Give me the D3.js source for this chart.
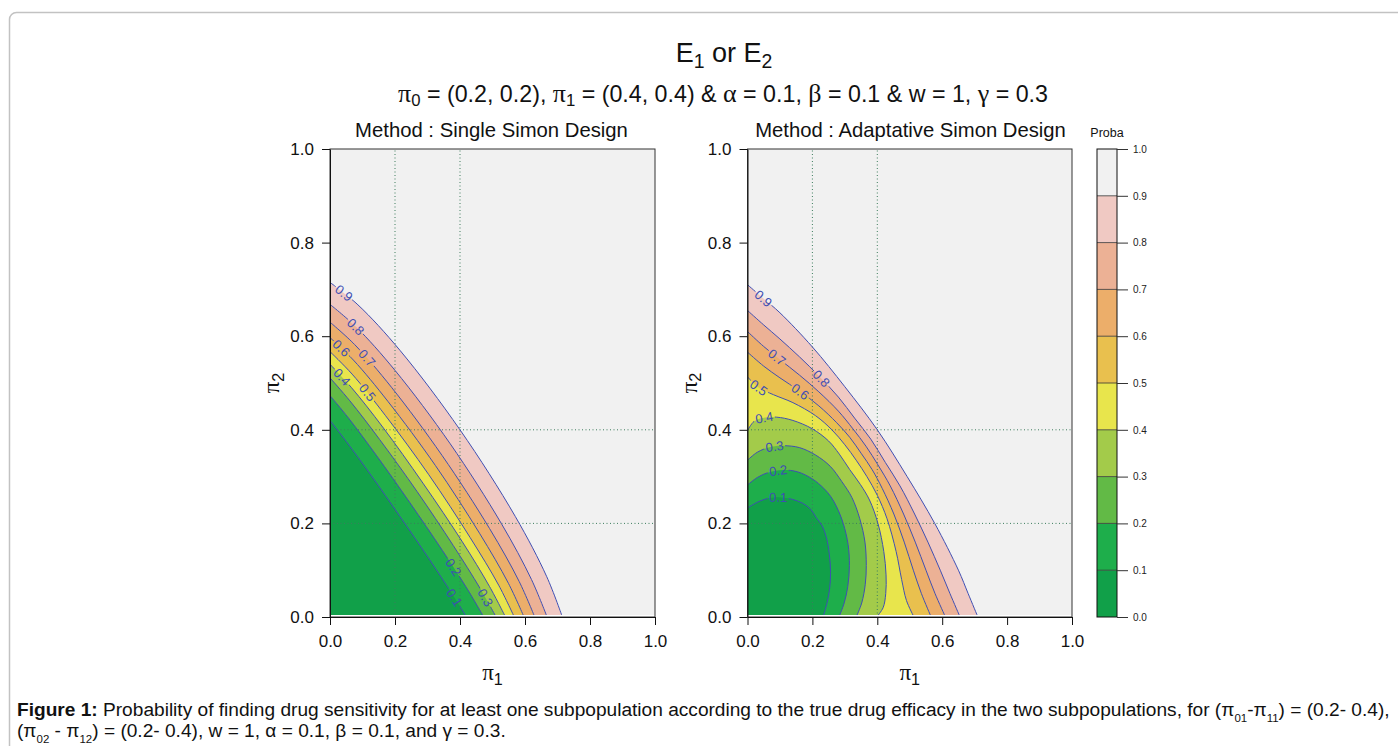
<!DOCTYPE html>
<html>
<head>
<meta charset="utf-8">
<script src="https://cdn.jsdelivr.net/npm/d3@7"></script>
<style>
  body { margin: 0; background: #fff; }
  svg { display: block; }
</style>
</head>
<body>
<script>
// contour levels and the fill colour of each band (0-0.1 ... 0.9-1.0)
const levels = [0.1, 0.2, 0.3, 0.4, 0.5, 0.6, 0.7, 0.8, 0.9];
const bandColors = ["#11a049", "#1eae4b", "#62ba46", "#a3cb4a", "#e8e54c",
                    "#e9c04e", "#ecae6a", "#ecb195", "#f0c9c3", "#f1f1f1"];
const axisTicks = [0, 0.2, 0.4, 0.6, 0.8, 1.0];
const keyTicks = [0, 0.1, 0.2, 0.3, 0.4, 0.5, 0.6, 0.7, 0.8, 0.9, 1.0];
const refLines = [0.2, 0.4];
const panelTitles = ["Method : Single Simon Design", "Method : Adaptative Simon Design"];

// contour lines [pi1, pi2], one array per level
const singleContours = [
  [[0, 0.42], [0.050, 0.375], [0.126, 0.303], [0.215, 0.215], [0.303, 0.126], [0.375, 0.050], [0.42, 0]],
  [[0, 0.473], [0.057, 0.425], [0.142, 0.346], [0.245, 0.245], [0.346, 0.142], [0.425, 0.057], [0.473, 0]],
  [[0, 0.511], [0.061, 0.462], [0.153, 0.379], [0.268, 0.268], [0.379, 0.153], [0.462, 0.061], [0.511, 0]],
  [[0, 0.54], [0.065, 0.491], [0.162, 0.406], [0.286, 0.286], [0.406, 0.162], [0.491, 0.065], [0.54, 0]],
  [[0, 0.567], [0.068, 0.519], [0.170, 0.431], [0.304, 0.304], [0.431, 0.170], [0.519, 0.068], [0.567, 0]],
  [[0, 0.597], [0.072, 0.549], [0.179, 0.460], [0.324, 0.324], [0.460, 0.179], [0.549, 0.072], [0.597, 0]],
  [[0, 0.63], [0.076, 0.582], [0.189, 0.491], [0.345, 0.345], [0.491, 0.189], [0.582, 0.076], [0.63, 0]],
  [[0, 0.668], [0.080, 0.620], [0.200, 0.527], [0.370, 0.370], [0.527, 0.200], [0.620, 0.080], [0.668, 0]],
  [[0, 0.715], [0.086, 0.667], [0.215, 0.570], [0.400, 0.400], [0.570, 0.215], [0.667, 0.086], [0.715, 0]]
];
const singleLabelPos = [[0.378, 0.04], [0.367, 0.10], [0.474, 0.04], [0.03, 0.508], [0.107, 0.475],
                        [0.03, 0.571], [0.107, 0.55], [0.071, 0.615], [0.04, 0.689]];

const adaptiveContours = [
  [[0, 0.233], [0.03, 0.245], [0.06, 0.253], [0.095, 0.256], [0.135, 0.252], [0.17, 0.243], [0.195, 0.23], [0.212, 0.212],
   [0.23, 0.195], [0.243, 0.17], [0.252, 0.135], [0.256, 0.095], [0.253, 0.06], [0.245, 0.03], [0.233, 0]],
  [[0, 0.282], [0.03, 0.298], [0.065, 0.309], [0.11, 0.314], [0.155, 0.31], [0.2, 0.295], [0.235, 0.275], [0.257, 0.257],
   [0.275, 0.235], [0.295, 0.2], [0.31, 0.155], [0.314, 0.11], [0.309, 0.065], [0.298, 0.03], [0.282, 0]],
  [[0, 0.335], [0.03, 0.352], [0.07, 0.363], [0.11, 0.366], [0.16, 0.362], [0.21, 0.346], [0.255, 0.322], [0.29, 0.29],
   [0.322, 0.255], [0.346, 0.21], [0.362, 0.16], [0.366, 0.11], [0.363, 0.07], [0.352, 0.03], [0.335, 0]],
  [[0, 0.398], [0.02, 0.418], [0.05, 0.426], [0.09, 0.427], [0.14, 0.42], [0.2, 0.402], [0.25, 0.376], [0.283, 0.348], [0.315, 0.315],
   [0.348, 0.283], [0.376, 0.25], [0.402, 0.2], [0.42, 0.14], [0.427, 0.09], [0.426, 0.05], [0.418, 0.02], [0.398, 0]],
  [[0, 0.513], [0.035, 0.49], [0.08, 0.475], [0.14, 0.458], [0.21, 0.43], [0.26, 0.4], [0.30, 0.368], [0.335, 0.335],
   [0.368, 0.30], [0.4, 0.26], [0.43, 0.21], [0.458, 0.14], [0.475, 0.08], [0.49, 0.035], [0.513, 0]],
  [[0, 0.566], [0.05, 0.536], [0.1, 0.511], [0.16, 0.483], [0.22, 0.451], [0.275, 0.415], [0.315, 0.384], [0.35, 0.35],
   [0.384, 0.315], [0.415, 0.275], [0.451, 0.22], [0.483, 0.16], [0.511, 0.1], [0.536, 0.05], [0.566, 0]],
  [[0, 0.61], [0.05, 0.578], [0.1, 0.55], [0.16, 0.517], [0.22, 0.481], [0.28, 0.44], [0.325, 0.402], [0.365, 0.365],
   [0.402, 0.325], [0.44, 0.28], [0.481, 0.22], [0.517, 0.16], [0.55, 0.1], [0.578, 0.05], [0.61, 0]],
  [[0, 0.655], [0.05, 0.624], [0.1, 0.594], [0.16, 0.556], [0.22, 0.515], [0.28, 0.47], [0.33, 0.425], [0.38, 0.38],
   [0.425, 0.33], [0.47, 0.28], [0.515, 0.22], [0.556, 0.16], [0.594, 0.1], [0.624, 0.05], [0.655, 0]],
  [[0, 0.71], [0.05, 0.68], [0.1, 0.65], [0.2, 0.577], [0.3, 0.492], [0.4, 0.4],
   [0.492, 0.3], [0.577, 0.2], [0.65, 0.1], [0.68, 0.05], [0.71, 0]]
];
const adaptiveLabelPos = [[0.095, 0.256], [0.095, 0.309], [0.085, 0.357], [0.054, 0.415], [0.033, 0.489],
                          [0.141, 0.461], [0.085, 0.55], [0.211, 0.498], [0.044, 0.677]];

const subtitleSegs = [{t: "π", serif: 1, big: 1}, {t: "0", sub: 1}, {t: " = (0.2, 0.2), "}, {t: "π", serif: 1, big: 1}, {t: "1", sub: 1},
  {t: " = (0.4, 0.4) & "}, {t: "α", serif: 1, big: 1}, {t: " = 0.1, "}, {t: "β", serif: 1, big: 1}, {t: " = 0.1 & w = 1, "},
  {t: "γ", serif: 1, big: 1}, {t: " = 0.3"}];
const captionLine1 = [{t: "Figure 1:", bold: 1},
  {t: " Probability of finding drug sensitivity for at least one subpopulation according to the true drug efficacy in the two subpopulations, for (π"},
  {t: "01", sub: 1}, {t: "-π"}, {t: "11", sub: 1}, {t: ") = (0.2- 0.4),"}];
const captionLine2 = [{t: "(π"}, {t: "02", sub: 1}, {t: " - π"}, {t: "12", sub: 1},
  {t: ") = (0.2- 0.4), w = 1, α = 0.1, β = 0.1, and γ = 0.3."}];

(() => {
    const width = 1398;
    const height = 746;
    const top = 149;
    const bottom = 617;
    const sans = "'Liberation Sans', Arial, Helvetica, sans-serif";
    const serif = "'Liberation Serif', 'Times New Roman', serif";
    const narrow = "'Liberation Sans Narrow', 'Arial Narrow', 'Liberation Sans', Arial, sans-serif";
    const lineColor = "#3f4fb3";

    const svg = d3.select("body").append("svg")
        .attr("width", width)
        .attr("height", height)
        .attr("viewBox", [0, 0, width, height]);
    const defs = svg.append("defs");

    // text with serif greek letters and subscripts
    const rich = (text, segs, drop = 0.45, size = 0.62) => {
        let back = 0;
        segs.forEach(s => {
            const ts = text.append("tspan").text(s.t);
            if (s.serif) ts.attr("font-family", serif);
            if (s.big) ts.style("font-size", "1.12em");
            if (s.bold) ts.attr("font-weight", "bold");
            if (s.sub) {
                ts.style("font-size", `${size}em`).attr("dy", `${drop}em`);
                back = size * drop;
            } else if (back) {
                ts.attr("dy", `${-back / (s.big ? 1.12 : 1)}em`);
                back = 0;
            }
        });
        return text;
    };
    const fitWidth = (text, w) => {
        const fs = parseFloat(text.attr("font-size"));
        const bw = text.node().getBBox().width;
        text.attr("font-size", fs * w / bw);
        return fs * w / bw;
    };

    // page frame
    svg.append("rect")
        .attr("x", 9.5).attr("y", 12.5)
        .attr("width", 1420).attr("height", 800)
        .attr("rx", 7)
        .attr("fill", "none")
        .attr("stroke", "#c2c2c2")
        .attr("stroke-width", 1.5);

    // titles
    rich(svg.append("text")
        .attr("x", 724).attr("y", 62)
        .attr("text-anchor", "middle")
        .attr("font-family", sans).attr("font-size", 27)
        .attr("fill", "#111")
        .style("white-space", "pre"),
        [{t: "E"}, {t: "1", sub: 1}, {t: " or E"}, {t: "2", sub: 1}], 0.3, 0.72);

    const sub = rich(svg.append("text")
        .attr("x", 723).attr("y", 102)
        .attr("text-anchor", "middle")
        .attr("font-family", sans).attr("font-size", 22)
        .attr("fill", "#111")
        .style("white-space", "pre"), subtitleSegs, 0.25, 0.72);
    fitWidth(sub, 650);

    const panels = [
        {left: 330, right: 655, contours: singleContours, labels: singleLabelPos, titleX: 491.5, titleW: 273},
        {left: 747.5, right: 1072, contours: adaptiveContours, labels: adaptiveLabelPos, titleX: 910.5, titleW: 311}
    ];

    panels.forEach((p, i) => {
        const x = d3.scaleLinear().domain([0, 1]).range([p.left, p.right]);
        const y = d3.scaleLinear().domain([0, 1]).range([bottom, top]);
        const g = svg.append("g");

        defs.append("clipPath").attr("id", `clip${i}`)
            .append("rect")
            .attr("x", x(0)).attr("y", y(1))
            .attr("width", x(1) - x(0)).attr("height", y(0) - y(1) - 2);

        const plot = g.append("g").attr("clip-path", `url(#clip${i})`);
        plot.append("rect")
            .attr("x", x(0)).attr("y", y(1))
            .attr("width", x(1) - x(0)).attr("height", y(0) - y(1))
            .attr("fill", bandColors[levels.length]);

        const line = d3.line()
            .x(d => x(d[0]))
            .y(d => y(d[1]))
            .curve(d3.curveCatmullRom);

        // bands, outermost level first, each region closed through the origin
        d3.range(levels.length - 1, -1, -1).forEach(k => {
            plot.append("path")
                .attr("d", line(p.contours[k]) + `L${x(0)},${y(0)}Z`)
                .attr("fill", bandColors[k]);
        });

        // dotted reference lines
        const ref = plot.append("g")
            .attr("stroke", "#3c7d5d")
            .attr("stroke-width", 1)
            .attr("stroke-dasharray", "1,2.5");
        refLines.forEach(v => {
            ref.append("line").attr("x1", x(v)).attr("x2", x(v)).attr("y1", y(0)).attr("y2", y(1));
            ref.append("line").attr("x1", x(0)).attr("x2", x(1)).attr("y1", y(v)).attr("y2", y(v));
        });

        // contour lines, broken where the labels sit
        const mask = defs.append("mask").attr("id", `gap${i}`)
            .attr("maskUnits", "userSpaceOnUse")
            .attr("x", 0).attr("y", 0).attr("width", width).attr("height", height);
        mask.append("rect").attr("width", width).attr("height", height).attr("fill", "white");

        const lines = plot.append("g").attr("mask", `url(#gap${i})`);
        const labels = plot.append("g");

        levels.forEach((lv, k) => {
            const path = lines.append("path")
                .attr("d", line(p.contours[k]))
                .attr("fill", "none")
                .attr("stroke", lineColor)
                .attr("stroke-width", 1);

            const node = path.node();
            const len = node.getTotalLength();
            const tx = x(p.labels[k][0]), ty = y(p.labels[k][1]);
            let best = 0, bestD = Infinity;
            for (let s = 0; s <= len; s += 0.5) {
                const pt = node.getPointAtLength(s);
                const d = (pt.x - tx) ** 2 + (pt.y - ty) ** 2;
                if (d < bestD) { bestD = d; best = s; }
            }
            const c = node.getPointAtLength(best);
            const a = node.getPointAtLength(Math.max(0, best - 3));
            const b = node.getPointAtLength(Math.min(len, best + 3));
            let ang = Math.atan2(b.y - a.y, b.x - a.x) * 180 / Math.PI;
            if (ang > 90) ang -= 180;
            if (ang < -90) ang += 180;

            const t = labels.append("text")
                .attr("transform", `translate(${c.x},${c.y}) rotate(${ang})`)
                .attr("text-anchor", "middle")
                .attr("dy", "0.36em")
                .attr("font-family", sans)
                .attr("font-size", 13)
                .attr("fill", lineColor)
                .text(d3.format(".1f")(lv));
            const w = t.node().getComputedTextLength() + 3;
            mask.append("rect")
                .attr("x", -w / 2).attr("y", -6)
                .attr("width", w).attr("height", 12)
                .attr("transform", `translate(${c.x},${c.y}) rotate(${ang})`)
                .attr("fill", "black");
        });

        // box and axes
        g.append("rect")
            .attr("x", x(0)).attr("y", y(1))
            .attr("width", x(1) - x(0)).attr("height", y(0) - y(1))
            .attr("fill", "none")
            .attr("stroke", "#333");

        const xAxis = g.append("g")
            .attr("transform", `translate(0,${y(0)})`)
            .call(d3.axisBottom(x).tickValues(axisTicks).tickFormat(d3.format(".1f"))
                .tickSize(8).tickPadding(10).tickSizeOuter(0));
        const yAxis = g.append("g")
            .attr("transform", `translate(${x(0)},0)`)
            .call(d3.axisLeft(y).tickValues(axisTicks).tickFormat(d3.format(".1f"))
                .tickSize(8).tickPadding(8).tickSizeOuter(0));
        [xAxis, yAxis].forEach(ax => {
            ax.attr("font-family", sans).attr("font-size", 17);
            ax.selectAll("text").attr("fill", "#111");
            ax.selectAll("line,path").attr("stroke", "#111");
        });

        // axis titles
        rich(g.append("text")
            .attr("x", (x(0) + x(1)) / 2).attr("y", 680)
            .attr("text-anchor", "middle")
            .attr("font-family", sans).attr("font-size", 23)
            .attr("fill", "#111"),
            [{t: "π", serif: 1}, {t: "1", sub: 1}], 0.3, 0.7);
        rich(g.append("text")
            .attr("transform", `translate(${x(0) - 51},${(y(0) + y(1)) / 2}) rotate(-90)`)
            .attr("text-anchor", "middle")
            .attr("font-family", sans).attr("font-size", 23)
            .attr("fill", "#111"),
            [{t: "π", serif: 1}, {t: "2", sub: 1}], 0.3, 0.7);

        const title = g.append("text")
            .attr("x", p.titleX).attr("y", 137)
            .attr("text-anchor", "middle")
            .attr("font-family", sans).attr("font-size", 19)
            .attr("fill", "#111")
            .text(panelTitles[i]);
        fitWidth(title, p.titleW);
    });

    // colour key
    const k = d3.scaleLinear().domain([0, 1]).range([bottom, top]);
    const key = svg.append("g");
    d3.range(keyTicks.length - 1).forEach(j => {
        key.append("rect")
            .attr("x", 1097).attr("y", k(keyTicks[j + 1]))
            .attr("width", 20).attr("height", k(keyTicks[j]) - k(keyTicks[j + 1]))
            .attr("fill", bandColors[j]);
    });
    keyTicks.slice(1, -1).forEach(v => {
        key.append("line")
            .attr("x1", 1097).attr("x2", 1117)
            .attr("y1", k(v)).attr("y2", k(v))
            .attr("stroke", "#333").attr("stroke-width", 0.8);
    });
    key.append("rect")
        .attr("x", 1097).attr("y", k(1))
        .attr("width", 20).attr("height", k(0) - k(1))
        .attr("fill", "none").attr("stroke", "#111");
    const keyAxis = key.append("g")
        .attr("transform", "translate(1117,0)")
        .call(d3.axisRight(k).tickValues(keyTicks).tickFormat(d3.format(".1f"))
            .tickSize(11).tickPadding(5).tickSizeOuter(0));
    keyAxis.select(".domain").remove();
    keyAxis.attr("font-family", sans).attr("font-size", 10);
    keyAxis.selectAll("text").attr("fill", "#222");
    keyAxis.selectAll("line").attr("stroke", "#333");
    key.append("text")
        .attr("x", 1107).attr("y", 137)
        .attr("text-anchor", "middle")
        .attr("font-family", sans).attr("font-size", 12.5)
        .attr("fill", "#111")
        .text("Proba");

    // caption
    const cap1 = rich(svg.append("text")
        .attr("x", 17).attr("y", 716)
        .attr("font-family", narrow).attr("font-size", 17)
        .attr("fill", "#111")
        .style("white-space", "pre"), captionLine1, 0.55, 0.6);
    const fs = fitWidth(cap1, 1373);
    rich(svg.append("text")
        .attr("x", 17).attr("y", 737)
        .attr("font-family", narrow).attr("font-size", fs)
        .attr("fill", "#111")
        .style("white-space", "pre"), captionLine2, 0.55, 0.6);
})();
</script>
</body>
</html>
